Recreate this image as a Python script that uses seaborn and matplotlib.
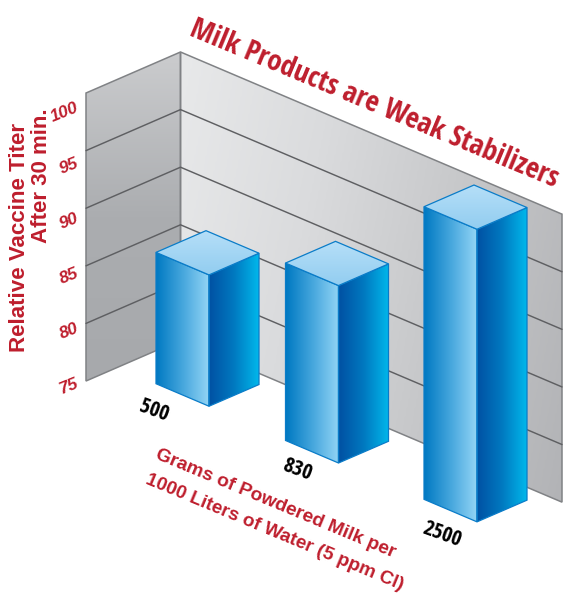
import numpy as np
import matplotlib
matplotlib.use("Agg")
import matplotlib.pyplot as plt
from matplotlib.patches import Polygon
import seaborn as sns

# --- data ---
doses = ["500", "830", "2500"]
titers = [86.4, 90.4, 100.4]
y_ticks = [75, 80, 85, 90, 95, 100]
title = "Milk Products are Weak Stabilizers"
y_title = ["Relative Vaccine Titer", "After 30 min."]
x_title = ["Grams of Powdered Milk per", "1000 Liters of Water (5 ppm Cl)"]

# --- layout of the oblique projection (pixels) ---
W, H = 566, 596
CORNER = np.array([180.5, 340.0])     # back corner of floor
U_DIR = np.array([1.0, 0.425])        # along the long wall
V_DIR = np.array([-1.0, 0.434])       # towards the viewer, left
PX_PER_UNIT = 57.6 / 5
Y_BASE = 75
U_LEN, V_LEN = 381.5, 94.5
BAR_FRONT_U = [91.5, 223.0, 361.5]
BAR_FRONT_V = [63.0, 65.0, 65.0]
BAR_W, BAR_D = 53.0, 50.0
LABEL_OFFSET = [(-55.5, 5.0), (-41.5, 7.0), (-35.0, 13.0)]
RED = "#BE1E2D"
CONDENSED = ["Open Sans Condensed", "PT Sans Narrow", "Liberation Sans", "DejaVu Sans"]

sns.set_theme(style="white")
plt.rcParams["font.family"] = ["Liberation Sans", "DejaVu Sans"]


def project(u, v, val):
    p = CORNER + u * U_DIR + v * V_DIR
    return np.array([p[0], p[1] - (val - Y_BASE) * PX_PER_UNIT])


def gradient_poly(ax, verts, colors, direction, edge=None, lw=0.9, zorder=1):
    """Fill polygon with a linear gradient built from a seaborn palette."""
    verts = np.asarray(verts)
    cmap = sns.blend_palette(colors, as_cmap=True)
    x0, y0 = verts.min(axis=0)
    x1, y1 = verts.max(axis=0)
    n = 200
    xx, yy = np.meshgrid(np.linspace(0, 1, n), np.linspace(0, 1, n))
    t = xx * direction[0] + yy * direction[1]
    t = (t - t.min()) / (t.max() - t.min())
    im = ax.imshow(t, cmap=cmap, extent=(x0, x1, y1, y0), origin="upper",
                   aspect="auto", zorder=zorder, interpolation="bilinear")
    clip = Polygon(verts, closed=True, transform=ax.transData, fc="none", ec="none")
    ax.add_patch(clip)
    im.set_clip_path(clip)
    if edge:
        ax.add_patch(Polygon(verts, closed=True, fc="none", ec=edge, lw=lw,
                             zorder=zorder + 0.1, joinstyle="miter"))


def fit(text, length):
    """Scale a rotated text's font so that its run length matches `length` pixels."""
    rot = text.get_rotation()
    text.set_rotation(0)
    w = text.get_window_extent(fig.canvas.get_renderer()).width
    text.set_fontsize(text.get_fontsize() * length / w)
    text.set_rotation(rot)


fig = plt.figure(figsize=(W / 100, H / 100), dpi=100, facecolor="white")
ax = fig.add_axes([0, 0, 1, 1])
ax.set_axis_off()

top, base = max(y_ticks), min(y_ticks)

# walls
left_wall = [project(0, 0, top), project(0, V_LEN, top), project(0, V_LEN, base), project(0, 0, base)]
right_wall = [project(0, 0, top), project(U_LEN, 0, top), project(U_LEN, 0, base), project(0, 0, base)]
gradient_poly(ax, left_wall, ["#CBCCCE", "#ABADB0", "#A7A9AC"], (0, 1), edge="#808285", lw=1.1)
gradient_poly(ax, right_wall, ["#E8E9EA", "#DADBDD", "#C6C7C9", "#B2B3B6"], (1, 0.25), edge="#808285", lw=1.1)

# grid lines on both walls
for val in y_ticks[1:-1]:
    pts = np.array([project(0, V_LEN, val), project(0, 0, val), project(U_LEN, 0, val)])
    ax.plot(pts[:, 0], pts[:, 1], color="#5E5F62", lw=1.05, zorder=2, solid_joinstyle="miter")

# bars
for fu, fv, val in sorted(zip(BAR_FRONT_U, BAR_FRONT_V, titers)):
    lu, rv = fu - BAR_W, fv - BAR_D
    front_t, front_b = project(fu, fv, val), project(fu, fv, base)
    left_t, left_b = project(lu, fv, val), project(lu, fv, base)
    right_t, right_b = project(fu, rv, val), project(fu, rv, base)
    back_t = project(lu, rv, val)
    gradient_poly(ax, [left_t, front_t, front_b, left_b],
                  ["#0079C2", "#45A6DD", "#92D4F5"], (1, 0), edge="#0A7CC8", zorder=3)
    gradient_poly(ax, [front_t, right_t, right_b, front_b],
                  ["#0051A3", "#0079C0", "#00B7EB"], (1, 0), edge="#0A7CC8", zorder=3)
    gradient_poly(ax, [back_t, right_t, front_t, left_t],
                  ["#B6DFF8", "#92CDF0"], (0, 1), edge="#0A7CC8", zorder=3.5)

# value labels on the left wall
for val in y_ticks:
    ax.text(78, 383 - (val - Y_BASE) * 11.04, str(val), color=RED, fontsize=12.5,
            fontweight="bold", style="italic", ha="right", va="center",
            rotation=22, rotation_mode="anchor", zorder=5)

# category labels
for fu, fv, lab, off in zip(BAR_FRONT_U, BAR_FRONT_V, doses, LABEL_OFFSET):
    p = project(fu, fv, base)
    ax.text(p[0] + off[0], p[1] + off[1], lab, color="black", fontsize=15.5, fontweight="bold",
            family=CONDENSED, ha="center", va="center",
            rotation=-20, rotation_mode="anchor", zorder=5)

# titles
t = ax.text(188, 35, title, color=RED, fontsize=25, fontweight="bold", family=CONDENSED,
            ha="left", va="baseline", rotation=-22.6, rotation_mode="anchor", zorder=5)
fit(t, 396)
t = ax.text(155, 458, x_title[0], color=RED, fontsize=13, fontweight="bold", ha="left",
            va="baseline", rotation=-22.6, rotation_mode="anchor", zorder=5)
fit(t, 258)
t = ax.text(145, 483, x_title[1], color=RED, fontsize=13, fontweight="bold", ha="left",
            va="baseline", rotation=-22.6, rotation_mode="anchor", zorder=5)
fit(t, 278)
t = ax.text(25, 352, y_title[0], color=RED, fontsize=14.5, fontweight="bold", ha="left",
            va="baseline", rotation=90, rotation_mode="anchor", zorder=5)
fit(t, 229)
t = ax.text(47, 243, y_title[1], color=RED, fontsize=14.5, fontweight="bold", ha="left",
            va="baseline", rotation=90, rotation_mode="anchor", zorder=5)
fit(t, 135)

ax.set_xlim(0, W)
ax.set_ylim(H, 0)
fig.savefig("out.png", dpi=100, facecolor="white")
